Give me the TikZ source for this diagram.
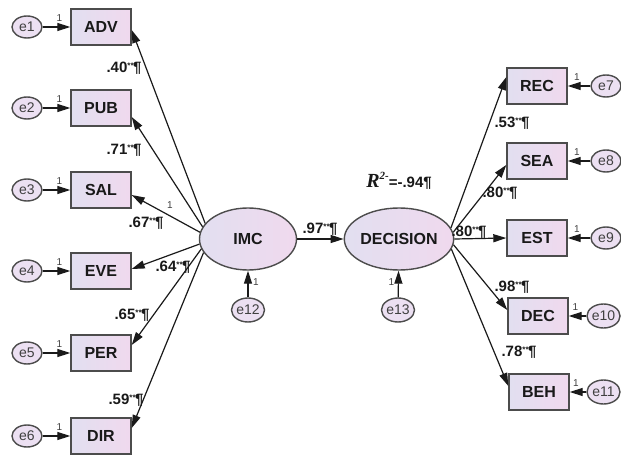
\documentclass[tikz,border=0pt]{standalone}
\usepackage{fontspec}
\setmainfont{Liberation Sans}
\newfontfamily\rfont{Liberation Serif}
\usetikzlibrary{arrows.meta,shapes.geometric,calc}
\definecolor{boxL}{HTML}{E2DFF0}
\definecolor{boxR}{HTML}{F0D9EE}
\definecolor{errF}{HTML}{ECE0F2}
\definecolor{lineC}{HTML}{1A1A1A}
\newcommand\sig{\raisebox{4pt}{\fontsize{8}{8}\selectfont **}\kern-0.5pt¶}
\begin{document}
\begin{tikzpicture}[x=1pt,y=-1pt,
 obs/.style={draw=black!70, line width=1.4pt, left color=boxL, right color=boxR,
   minimum width=60pt, minimum height=36pt, inner sep=0pt,
   font=\bfseries\fontsize{16}{16}\selectfont, text=black!90},
 lat/.style={ellipse, draw=black!70, line width=1.4pt, left color=boxL, right color=boxR,
   minimum width=97pt, minimum height=62pt, inner sep=0pt,
   font=\bfseries\fontsize{16}{16}\selectfont, text=black!90},
 err/.style={ellipse, draw=black!70, line width=1.4pt, fill=errF,
   minimum width=30pt, minimum height=22pt, inner sep=0pt,
   font=\fontsize{14}{14}\selectfont, text=black!75},
 errw/.style={err, minimum width=33pt, minimum height=24pt},
 arr/.style={-{Triangle[length=13pt,width=8pt]}, line width=1.2pt, draw=lineC},
 coef/.style={font=\bfseries\fontsize{15}{15}\selectfont, inner sep=0pt, text=black!90},
 one/.style={font=\fontsize{10}{10}\selectfont, inner sep=0pt, text=black!75}
]
\fill[white] (0,0) rectangle (621,457);
\useasboundingbox (0,0) rectangle (621,457);

% left indicators
\node[obs] (adv) at (101,27) {ADV};
\node[obs] (pub) at (101,108) {PUB};
\node[obs] (sal) at (101,190) {SAL};
\node[obs] (eve) at (101,271) {EVE};
\node[obs] (per) at (101,353) {PER};
\node[obs] (dir) at (101,436) {DIR};
\node[err] (e1) at (27,27) {e1};
\node[err] (e2) at (27,108) {e2};
\node[err] (e3) at (27,190) {e3};
\node[err] (e4) at (27,271) {e4};
\node[err] (e5) at (27,353) {e5};
\node[err] (e6) at (27,436) {e6};

% latents
\node[lat] (imc) at (248,239) {IMC};
\node[lat] (decision) at (399,239) {DECISION};
\node[errw] (e12) at (248,310) {e12};
\node[errw] (e13) at (398,310) {e13};

% right indicators
\node[obs] (rec) at (537,86) {REC};
\node[obs] (sea) at (537,161) {SEA};
\node[obs] (est) at (537,238) {EST};
\node[obs] (decb) at (538,316) {DEC};
\node[obs] (beh) at (539,392) {BEH};
\node[err] (e7) at (606,86) {e7};
\node[err] (e8) at (606,161) {e8};
\node[err] (e9) at (606,238) {e9};
\node[errw] (e10) at (603.5,316) {e10};
\node[errw] (e11) at (603.5,392) {e11};

% error arrows left
\foreach \e/\b in {e1/adv,e2/pub,e3/sal,e4/eve,e5/per,e6/dir}{
  \draw[arr] (\e) -- (\b);
  \node[one] at ($(\e.east)!0.5!(\b.west)+(3,-9)$) {1};
}
% error arrows right
\foreach \e/\b in {e7/rec,e8/sea,e9/est,e10/decb,e11/beh}{
  \draw[arr] (\e) -- (\b);
  \node[one] at ($(\e.west)!0.5!(\b.east)+(-2,-9)$) {1};
}
% structural errors
\draw[arr] (e12) -- (imc);
\node[one] at ($(e12.north)!0.5!(imc.south)+(8,-2)$) {1};
\draw[arr] (e13) -- (decision);
\node[one] at ($(e13.north)!0.5!(decision.south)+(-7,-2)$) {1};

% IMC loadings
\draw[arr] (imc.160) -- ($(adv.east)+(0,3)$);
\draw[arr] (imc.165) -- ($(pub.east)+(0,9)$);
\draw[arr] (imc.172) -- ($(sal.east)+(0,5)$);
\draw[arr] (imc.186) -- ($(eve.east)+(0,-2)$);
\draw[arr] (imc.192) -- ($(per.east)+(0,-8)$);
\draw[arr] (imc.197) -- ($(dir.east)+(0,-8)$);

% structural path
\draw[arr] (imc) -- (decision);

% DECISION loadings
\draw[arr] (decision.12) -- ($(rec.west)+(0,-9)$);
\draw[arr] (decision.7) -- ($(sea.west)+(0,4)$);
\draw[arr] (decision.0) -- (est.west);
\draw[arr] (decision.-6) -- ($(decb.west)+(0,-6)$);
\draw[arr] (decision.-11) -- ($(beh.west)+(0,-6)$);

% coefficients
\node[coef] at (124,68) {.40\sig};
\node[coef] at (124,150) {.71\sig};
\node[coef] at (146,223) {.67\sig};
\node[one] at (170,205) {1};
\node[coef] at (173,267) {.64\sig};
\node[coef] at (132,315) {.65\sig};
\node[coef] at (126,400) {.59\sig};
\node[coef] at (320,229) {.97\sig};
\node[coef] at (512,123) {.53\sig};
\node[coef] at (500,193) {.80\sig};
\node[coef] at (469,232) {.80\sig};
\node[coef] at (512,287) {.98\sig};
\node[coef] at (519,352) {.78\sig};
\node[coef] (r2) at (399,181) {{\rfont\bfseries\itshape\fontsize{20}{20}\selectfont R}\raisebox{8pt}{\rfont\itshape\fontsize{11}{11}\selectfont 2-}=-.94¶};
\end{tikzpicture}
\end{document}
